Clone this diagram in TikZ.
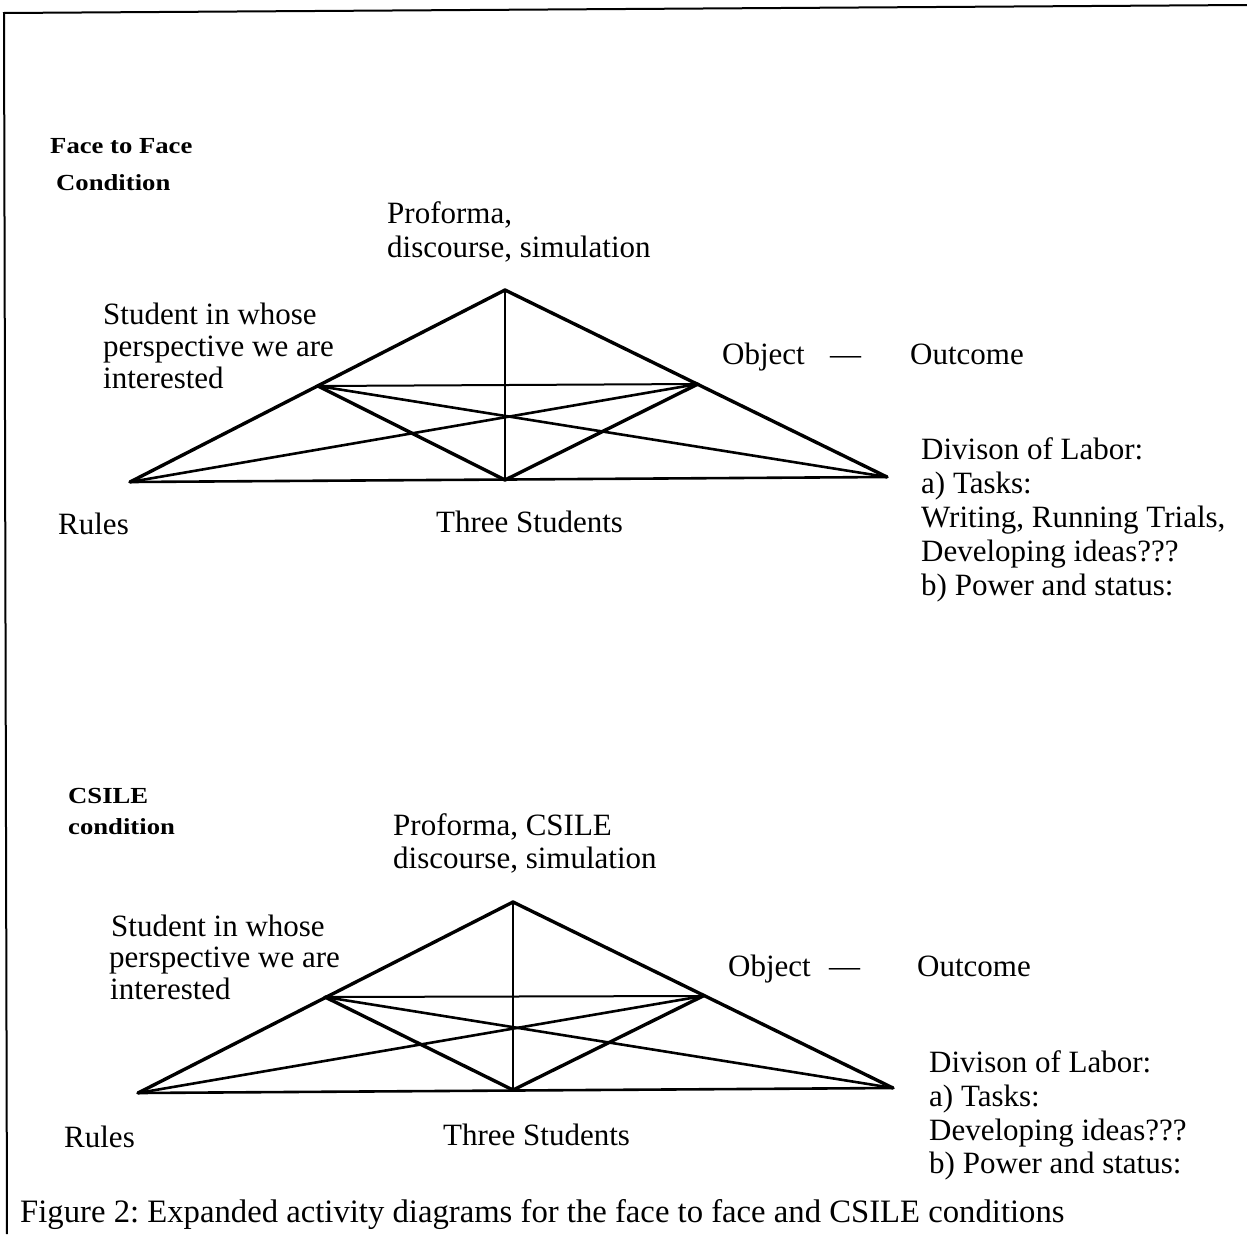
\documentclass[tikz,border=0pt]{standalone}
\usepackage{fontspec}
\setmainfont{Liberation Serif}
\newfontfamily\condfont[FakeStretch=1.16]{Liberation Serif}
\frenchspacing
\tikzset{
  txt/.style={font=\fontsize{31}{34}\selectfont, inner sep=0pt, anchor=base west},
  condlabel/.style={font=\condfont\bfseries\fontsize{23}{26}\selectfont, inner sep=0pt, anchor=base west},
  captxt/.style={font=\fontsize{32.7}{36}\selectfont, inner sep=0pt, anchor=base west},
  heavy/.style={line width=3.4pt, line join=round, line cap=round},
  medium/.style={line width=2.6pt, line cap=round},
  light/.style={line width=2pt, line cap=round},
  frameline/.style={line width=2pt}
}
\begin{document}
\begin{tikzpicture}[x=1pt, y=-1pt]
\useasboundingbox (0,0) rectangle (1247,1234);

% page frame (top and left rules)
\coordinate (fTL) at (4,13);
\coordinate (fTR) at (1247,5);
\coordinate (fBL) at (7,1234);
\draw[frameline] (fTR) -- (fTL) -- (fBL);

% ---------------- face to face triangle ----------------
\coordinate (A1)  at (505,290);
\coordinate (L1)  at (130,482);
\coordinate (R1)  at (887,477);
\coordinate (B1)  at (505,480);
\coordinate (ML1) at (318,386);
\coordinate (MR1) at (698,384);

\draw[heavy] (L1) -- (A1) -- (R1);
\draw[medium] (L1) -- (R1);
\draw[light] (A1) -- (B1);
\draw[light] (ML1) -- (MR1);
\draw[heavy] (ML1) -- (B1) -- (MR1);
\draw[medium] (ML1) -- (R1);
\draw[medium] (L1) -- (MR1);

\node[condlabel] (ff1) at (50,153) {Face to Face};
\node[condlabel] (ff2) at (56,190) {Condition};

\node[txt] (tool1a) at (387,223) {Proforma,};
\node[txt] (tool1b) at (387,257) {discourse, simulation};

\node[txt] (subj1a) at (103,324) {Student in whose};
\node[txt] (subj1b) at (103,356) {perspective we are};
\node[txt] (subj1c) at (103,388) {interested};

\node[txt] (obj1)  at (722,364) {Object};
\node[txt] (dash1) at (830,364) {—};
\node[txt] (out1)  at (910,364) {Outcome};

\node[txt] (div1a) at (921,459) {Divison of Labor:};
\node[txt] (div1b) at (921,493) {a) Tasks:};
\node[txt] (div1c) at (921,527) {Writing, Running Trials,};
\node[txt] (div1d) at (921,561) {Developing ideas???};
\node[txt] (div1e) at (921,595) {b) Power and status:};

\node[txt] (rules1) at (58,534) {Rules};
\node[txt] (comm1)  at (436,532) {Three Students};

% ---------------- CSILE triangle ----------------
\coordinate (A2)  at (513,902);
\coordinate (L2)  at (138,1093);
\coordinate (R2)  at (893,1088);
\coordinate (B2)  at (513,1090);
\coordinate (ML2) at (325,997);
\coordinate (MR2) at (703,996);

\draw[heavy] (L2) -- (A2) -- (R2);
\draw[medium] (L2) -- (R2);
\draw[light] (A2) -- (B2);
\draw[light] (ML2) -- (MR2);
\draw[heavy] (ML2) -- (B2) -- (MR2);
\draw[medium] (ML2) -- (R2);
\draw[medium] (L2) -- (MR2);

\node[condlabel] (cs1) at (68,803) {CSILE};
\node[condlabel] (cs2) at (68,834) {condition};

\node[txt] (tool2a) at (393,835) {Proforma, CSILE};
\node[txt] (tool2b) at (393,868) {discourse, simulation};

\node[txt] (subj2a) at (111,936) {Student in whose};
\node[txt] (subj2b) at (109,967) {perspective we are};
\node[txt] (subj2c) at (110,999) {interested};

\node[txt] (obj2)  at (728,976) {Object};
\node[txt] (dash2) at (829,976) {—};
\node[txt] (out2)  at (917,976) {Outcome};

\node[txt] (div2a) at (929,1072) {Divison of Labor:};
\node[txt] (div2b) at (929,1106) {a) Tasks:};
\node[txt] (div2c) at (929,1140) {Developing ideas???};
\node[txt] (div2d) at (929,1173) {b) Power and status:};

\node[txt] (rules2) at (64,1147) {Rules};
\node[txt] (comm2)  at (443,1145) {Three Students};

% caption
\node[captxt] (caption) at (20,1222) {Figure 2: Expanded activity diagrams for the face to face and CSILE conditions};
\end{tikzpicture}
\end{document}
